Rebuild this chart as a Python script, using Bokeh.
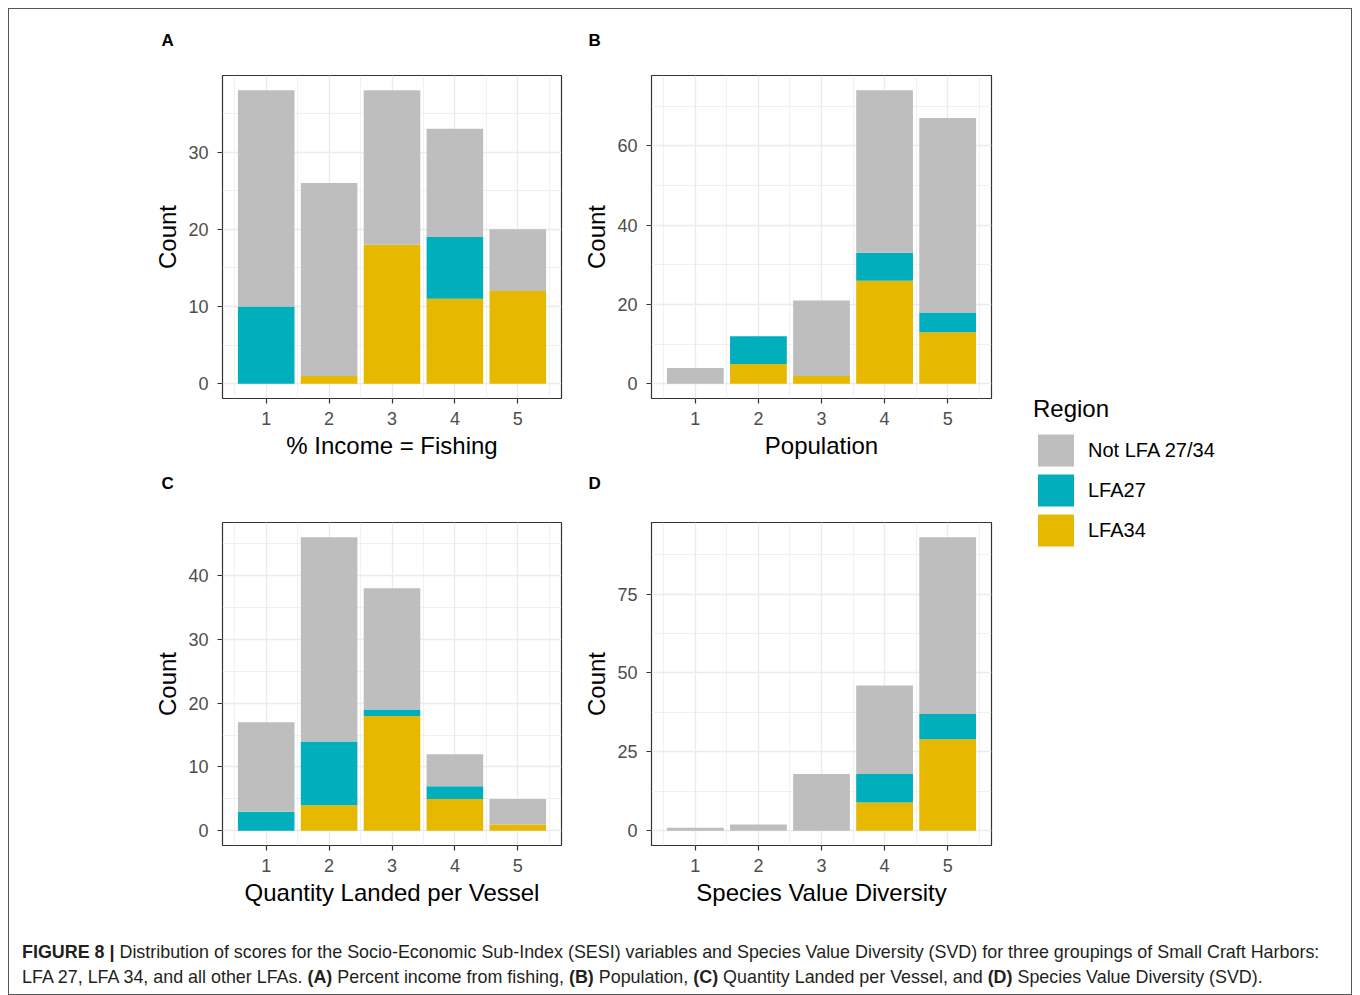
from bokeh.plotting import figure
from bokeh.models import ColumnDataSource, FixedTicker, Range1d, Legend, LegendItem, Div, Title
from bokeh.layouts import row, column
from bokeh.embed import file_html
from bokeh.resources import INLINE

# ---------------- data ----------------
scores = [1, 2, 3, 4, 5]
region_names = ["Not LFA 27/34", "LFA27", "LFA34"]
region_colors = ["#BEBEBE", "#00AFBB", "#E7B800"]

# Panel A: % Income = Fishing
a_not = [28, 25, 20, 14, 8]
a_l27 = [10, 0, 0, 8, 0]
a_l34 = [0, 1, 18, 11, 12]
# Panel B: Population
b_not = [4, 0, 19, 41, 49]
b_l27 = [0, 7, 0, 7, 5]
b_l34 = [0, 5, 2, 26, 13]
# Panel C: Quantity Landed per Vessel
c_not = [14, 32, 19, 5, 4]
c_l27 = [3, 10, 1, 2, 0]
c_l34 = [0, 4, 18, 5, 1]
# Panel D: Species Value Diversity
d_not = [1, 2, 18, 28, 56]
d_l27 = [0, 0, 0, 9, 8]
d_l34 = [0, 0, 0, 9, 29]

a_yticks = [0, 10, 20, 30]
b_yticks = [0, 20, 40, 60]
c_yticks = [0, 10, 20, 30, 40]
d_yticks = [0, 25, 50, 75]

x_titles = ["% Income = Fishing", "Population", "Quantity Landed per Vessel", "Species Value Diversity"]
panel_letters = ["A", "B", "C", "D"]

caption_html = ('<b>FIGURE 8 |</b> Distribution of scores for the Socio-Economic Sub-Index (SESI) variables and '
                'Species Value Diversity (SVD) for three groupings of Small Craft Harbors:<br>'
                'LFA 27, LFA 34, and all other LFAs. <b>(A)</b> Percent income from fishing, <b>(B)</b> Population, '
                '<b>(C)</b> Quantity Landed per Vessel, and <b>(D)</b> Species Value Diversity (SVD).')

FONT = "Liberation Sans"
FRAME_H = 323


def make_panel(not_v, l27_v, l34_v, yticks, xtitle, letter, frame_w, mb_left, mb_top, letter_off, spacer):
    totals = [a + b + c for a, b, c in zip(not_v, l27_v, l34_v)]
    ymax = max(totals)
    p = figure(frame_width=frame_w, frame_height=FRAME_H, output_backend="svg", toolbar_location=None,
               x_range=Range1d(0.305, 5.695), y_range=Range1d(-0.05 * ymax, 1.05 * ymax),
               min_border_left=mb_left, min_border_right=19, min_border_top=mb_top, min_border_bottom=67,
               title=letter)
    src = ColumnDataSource(dict(x=scores, LFA34=l34_v, LFA27=l27_v, NotLFA=not_v))
    p.vbar_stack(["LFA34", "LFA27", "NotLFA"], x="x", width=0.9, source=src,
                 color=[region_colors[2], region_colors[1], region_colors[0]], line_color=None)
    step = yticks[1] - yticks[0]
    yminor = [t + step / 2 for t in yticks]
    p.yaxis.ticker = FixedTicker(ticks=yticks, minor_ticks=yminor)
    p.xaxis.ticker = FixedTicker(ticks=scores, minor_ticks=[s - 0.5 for s in scores] + [5.5])
    for ax in (p.xaxis[0], p.yaxis[0]):
        ax.axis_line_color = None
        ax.major_tick_out = 5
        ax.major_tick_in = 0
        ax.major_tick_line_color = "#333333"
        ax.major_tick_line_width = 1.2
        ax.minor_tick_line_color = None
        ax.major_label_text_font = FONT
        ax.major_label_text_font_size = "18px"
        ax.major_label_text_color = "#4D4D4D"
        ax.axis_label_text_font = FONT
        ax.axis_label_text_font_size = "24px"
        ax.axis_label_text_font_style = "normal"
        ax.axis_label_text_color = "#000000"
    p.xaxis.axis_label = xtitle
    p.yaxis.axis_label = "Count"
    p.xaxis.major_label_standoff = 8
    p.yaxis.major_label_standoff = 9
    p.xaxis.axis_label_standoff = 4
    p.yaxis.axis_label_standoff = 4
    for g in (p.xgrid[0], p.ygrid[0]):
        g.grid_line_color = "#EBEBEB"
        g.grid_line_width = 1.3
        g.minor_grid_line_color = "#EBEBEB"
        g.minor_grid_line_width = 0.7
    p.outline_line_color = "#333333"
    p.outline_line_width = 1.2
    p.background_fill_color = "white"
    p.border_fill_color = "white"
    p.title.align = "left"
    p.title.offset = letter_off
    p.title.standoff = 0
    p.title.vertical_align = "bottom"
    p.title.text_font = FONT
    p.title.text_font_size = "17px"
    p.title.text_font_style = "bold"
    p.title.text_color = "#000000"
    # blank spacer between frame and panel letter
    p.add_layout(Title(text=" ", text_font_size="2px", standoff=spacer), "above")
    return p


pA = make_panel(a_not, a_l27, a_l34, a_yticks, x_titles[0], panel_letters[0], 339, 213, 66, -61, 22)
pB = make_panel(b_not, b_l27, b_l34, b_yticks, x_titles[1], panel_letters[1], 340, 71, 66, -63, 22)
pC = make_panel(c_not, c_l27, c_l34, c_yticks, x_titles[2], panel_letters[2], 339, 213, 57, -61, 26)
pD = make_panel(d_not, d_l27, d_l34, d_yticks, x_titles[3], panel_letters[3], 340, 71, 57, -63, 26)

# legend figure (proxy renderers share panel A's data but are hidden)
pL = figure(width=341, height=903, output_backend="svg", toolbar_location=None,
            x_range=Range1d(0, 1), y_range=Range1d(0, 1),
            min_border_left=0, min_border_right=0, min_border_top=0, min_border_bottom=0)
pL.xaxis.visible = False
pL.yaxis.visible = False
pL.xgrid.visible = False
pL.ygrid.visible = False
pL.outline_line_color = None
leg_src = ColumnDataSource(dict(x=scores, NotLFA=a_not, LFA27=a_l27, LFA34=a_l34))
items = []
for name, col, field in zip(region_names, region_colors, ["NotLFA", "LFA27", "LFA34"]):
    r = pL.vbar(x="x", top=field, width=0.9, source=leg_src, fill_color=col, line_color=None)
    r.visible = False
    items.append(LegendItem(label=name, renderers=[r]))
leg = Legend(items=items, location=(23, 362), title="Region",
             title_text_font=FONT, title_text_font_size="24px", title_text_font_style="normal",
             title_text_color="#000000", title_standoff=7,
             label_text_font=FONT, label_text_font_size="20px", label_text_color="#000000",
             glyph_width=45, glyph_height=40, label_height=40, label_standoff=10, spacing=0,
             padding=0, margin=0, border_line_color=None, background_fill_alpha=0,
             inactive_fill_alpha=0)
pL.add_layout(leg)

cap = Div(text=caption_html, width=1328, height=72,
          styles={"font-family": "'Liberation Sans', Arial, sans-serif", "font-size": "17.9px",
                  "line-height": "25px", "color": "#231F20", "padding-left": "8px", "padding-top": "23px",
                  "white-space": "nowrap"})

grid = column(row(pA, pB), row(pC, pD))
layout = column(row(grid, pL), cap,
                styles={"border": "1px solid #555555", "margin-left": "8px", "margin-top": "8px"})

open("out.html", "w").write(file_html(layout, INLINE))
